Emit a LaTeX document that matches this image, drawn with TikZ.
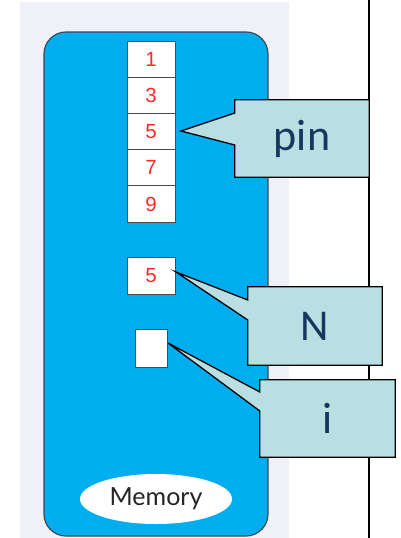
\documentclass[tikz,border=0pt]{standalone}
\usepackage{fontspec}
\usetikzlibrary{shapes.geometric}
\setmainfont{Liberation Sans}
\newfontfamily\calib{Carlito}
\newfontfamily\humsans{Lato}
\definecolor{panel}{HTML}{F0F0F8}
\definecolor{membg}{HTML}{00AEEF}
\definecolor{memedge}{HTML}{3A4A55}
\definecolor{callfill}{HTML}{B9DFE3}
\definecolor{calltext}{HTML}{17375E}
\definecolor{digit}{HTML}{FF2A2A}
\definecolor{celledge}{HTML}{4A4A4A}
\tikzset{
  cellbox/.style={draw=celledge, line width=0.9pt, fill=white, minimum width=48pt, minimum height=36.2pt, inner sep=0pt, font=\fontsize{20.5}{20.5}\selectfont, text=digit},
  callbox/.style={inner sep=0pt},
  callout/.style={draw=black, line width=1.3pt, fill=callfill, line join=miter},
  calllabel/.style={font=\calib\fontsize{44}{44}\selectfont, text=calltext}
}
\begin{document}
\begin{tikzpicture}[x=1pt,y=-1pt]
\useasboundingbox (0,0) rectangle (400,538);
\fill[white] (0,0) rectangle (400,538);
% panel
\fill[panel] (20,2) rectangle (289,538);
% memory block
\draw[memedge, line width=1.2pt, fill=membg, rounded corners=22pt] (44,32) rectangle (268,536);
% array cells
\node[cellbox] (c1) at (151,59.2) {1};
\node[cellbox] (c3) at (151,95.4) {3};
\node[cellbox] (c5) at (151,131.6) {5};
\node[cellbox] (c7) at (151,167.8) {7};
\node[cellbox] (c9) at (151,204) {9};
\node[cellbox] (nv) at (151,276) {5};
\node[cellbox, minimum width=32pt, minimum height=38pt] (iv) at (151,348) {};
% memory label
\node[draw=none, fill=white, ellipse, minimum width=152pt, minimum height=50pt, inner sep=0pt,
      font=\humsans\fontsize{25}{25}\selectfont, text=black!85] (mem) at (156,499) {Memory};
% vertical line
\coordinate (vtop) at (369,0);
\coordinate (vbot) at (369,538);
\draw[black, line width=1.3pt] (vtop) -- (vbot);
% pin callout
\node[callbox, minimum width=134pt, minimum height=77pt] (pin) at (302,138.5) {};
\coordinate (pintip) at (181,131);
\draw[callout] (pin.north west) -- (pin.north east) -- (pin.south east) -- (pin.south west)
  -- ([yshift=-6.5pt]pin.west) -- (pintip) -- ([yshift=25.5pt]pin.west) -- cycle;
\node[calllabel] at (pin.center) {pin};
% N callout
\node[callbox, minimum width=134pt, minimum height=78pt] (ncall) at (315,326) {};
\coordinate (ntip) at (176,272);
\draw[callout] (ncall.north west) -- (ncall.north east) -- (ncall.south east) -- (ncall.south west)
  -- ([yshift=6pt]ncall.west) -- (ntip) -- ([yshift=26pt]ncall.west) -- cycle;
\node[calllabel] at (ncall.center) {N};
% i callout
\node[callbox, minimum width=135pt, minimum height=77pt] (icall) at (327.5,418.5) {};
\coordinate (itip) at (168,343);
\draw[callout] (icall.north west) -- (icall.north east) -- (icall.south east) -- (icall.south west)
  -- ([yshift=7.5pt]icall.west) -- (itip) -- ([yshift=26.5pt]icall.west) -- cycle;
\node[calllabel] at (icall.center) {i};
\end{tikzpicture}
\end{document}
